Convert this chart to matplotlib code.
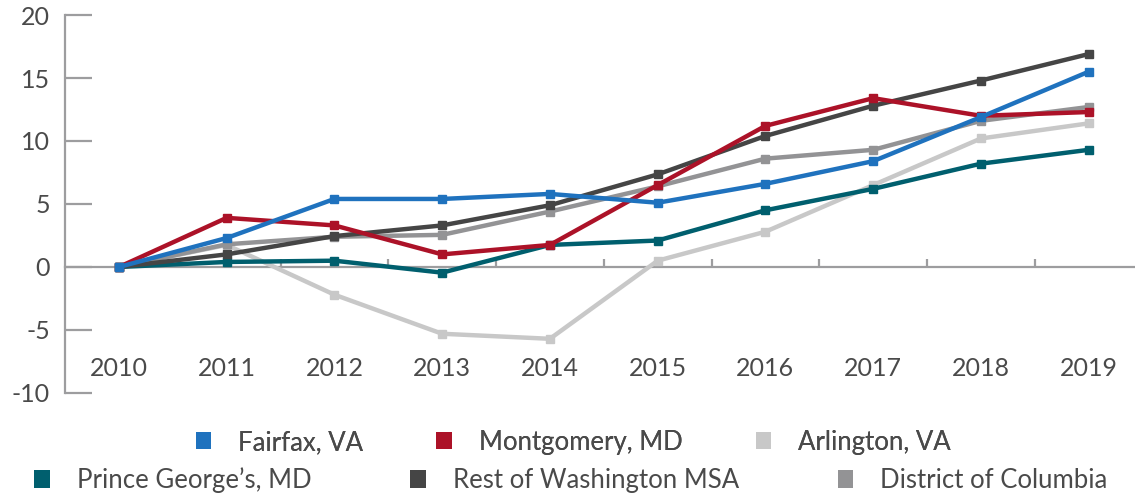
import numpy as np
import matplotlib.pyplot as plt
from matplotlib.patches import Patch

plt.rcParams['font.family'] = ['Lato', 'DejaVu Sans']
plt.rcParams['axes.unicode_minus'] = False

# Данные: изменение по годам
years = ['2010', '2011', '2012', '2013', '2014', '2015', '2016', '2017', '2018', '2019']
fairfax = [0, 2.3, 5.4, 5.4, 5.8, 5.1, 6.6, 8.4, 11.9, 15.5]
montgomery = [0, 3.9, 3.3, 1.0, 1.75, 6.5, 11.2, 13.4, 12.0, 12.3]
arlington = [0, 1.75, -2.2, -5.3, -5.7, 0.5, 2.8, 6.5, 10.2, 11.4]
prince_georges = [0, 0.4, 0.5, -0.45, 1.75, 2.1, 4.5, 6.2, 8.2, 9.3]
rest_msa = [0, 1.0, 2.45, 3.3, 4.9, 7.35, 10.4, 12.8, 14.8, 16.9]
dc = [0, 1.8, 2.4, 2.55, 4.4, 6.4, 8.6, 9.3, 11.6, 12.7]

names = ['Fairfax, VA', 'Montgomery, MD', 'Arlington, VA',
         "Prince George\u2019s, MD", 'Rest of Washington MSA', 'District of Columbia']
series = [fairfax, montgomery, arlington, prince_georges, rest_msa, dc]
colors = ['#1f72be', '#ac1228', '#c8c8c8', '#005f6e', '#454545', '#939395']

axis_col = '#9d9d9f'
text_col = '#4a4a4a'

fig = plt.figure(figsize=(11.35, 4.97), dpi=100)
ax = fig.add_axes([0.0573, 0.2093, 0.9427, 0.7605])

x = np.arange(len(years))
# рисуем в порядке, близком к оригиналу (светлые снизу)
order = [2, 3, 5, 4, 1, 0]
for i in order:
    ax.plot(x, series[i], color=colors[i], lw=3.2, marker='s', ms=6,
            solid_joinstyle='miter', zorder=3)

ax.set_xlim(-0.5, 9.43)
ax.set_ylim(-10, 20)

for s in ['top', 'right']:
    ax.spines[s].set_visible(False)
ax.spines['left'].set_color(axis_col)
ax.spines['left'].set_linewidth(1.6)
ax.spines['bottom'].set_color(axis_col)
ax.spines['bottom'].set_linewidth(1.6)
ax.spines['bottom'].set_position(('data', 0))
ax.spines['bottom'].set_zorder(2)

ax.set_yticks(np.arange(-10, 21, 5))
ax.tick_params(axis='y', direction='in', length=19.5, width=1.6, color=axis_col,
               labelsize=18, labelcolor=text_col, pad=11)

ax.set_xticks(x)
ax.set_xticklabels(years)
ax.set_xticks(x[:-1] + 0.5, minor=True)
ax.tick_params(axis='x', which='major', length=0, labelsize=18,
               labelcolor=text_col, pad=65)
ax.tick_params(axis='x', which='minor', direction='in', length=6, width=1.6,
               color=axis_col)

# легенда в две строки
def make_handles(idx):
    return [Patch(facecolor=colors[i], edgecolor='none', label=names[i]) for i in idx]

leg_kw = dict(ncol=3, frameon=False, fontsize=18.5, handlelength=0.6,
              handleheight=0.65, handletextpad=1.05, labelcolor=text_col)
leg1 = fig.legend(handles=make_handles([0, 1, 2]), loc='center',
                  bbox_to_anchor=(0.505, 0.11), columnspacing=2.85, **leg_kw)
fig.add_artist(leg1)
fig.legend(handles=make_handles([3, 4, 5]), loc='center',
           bbox_to_anchor=(0.503, 0.034), columnspacing=3.85, **leg_kw)

fig.savefig('out.png', dpi=100)
